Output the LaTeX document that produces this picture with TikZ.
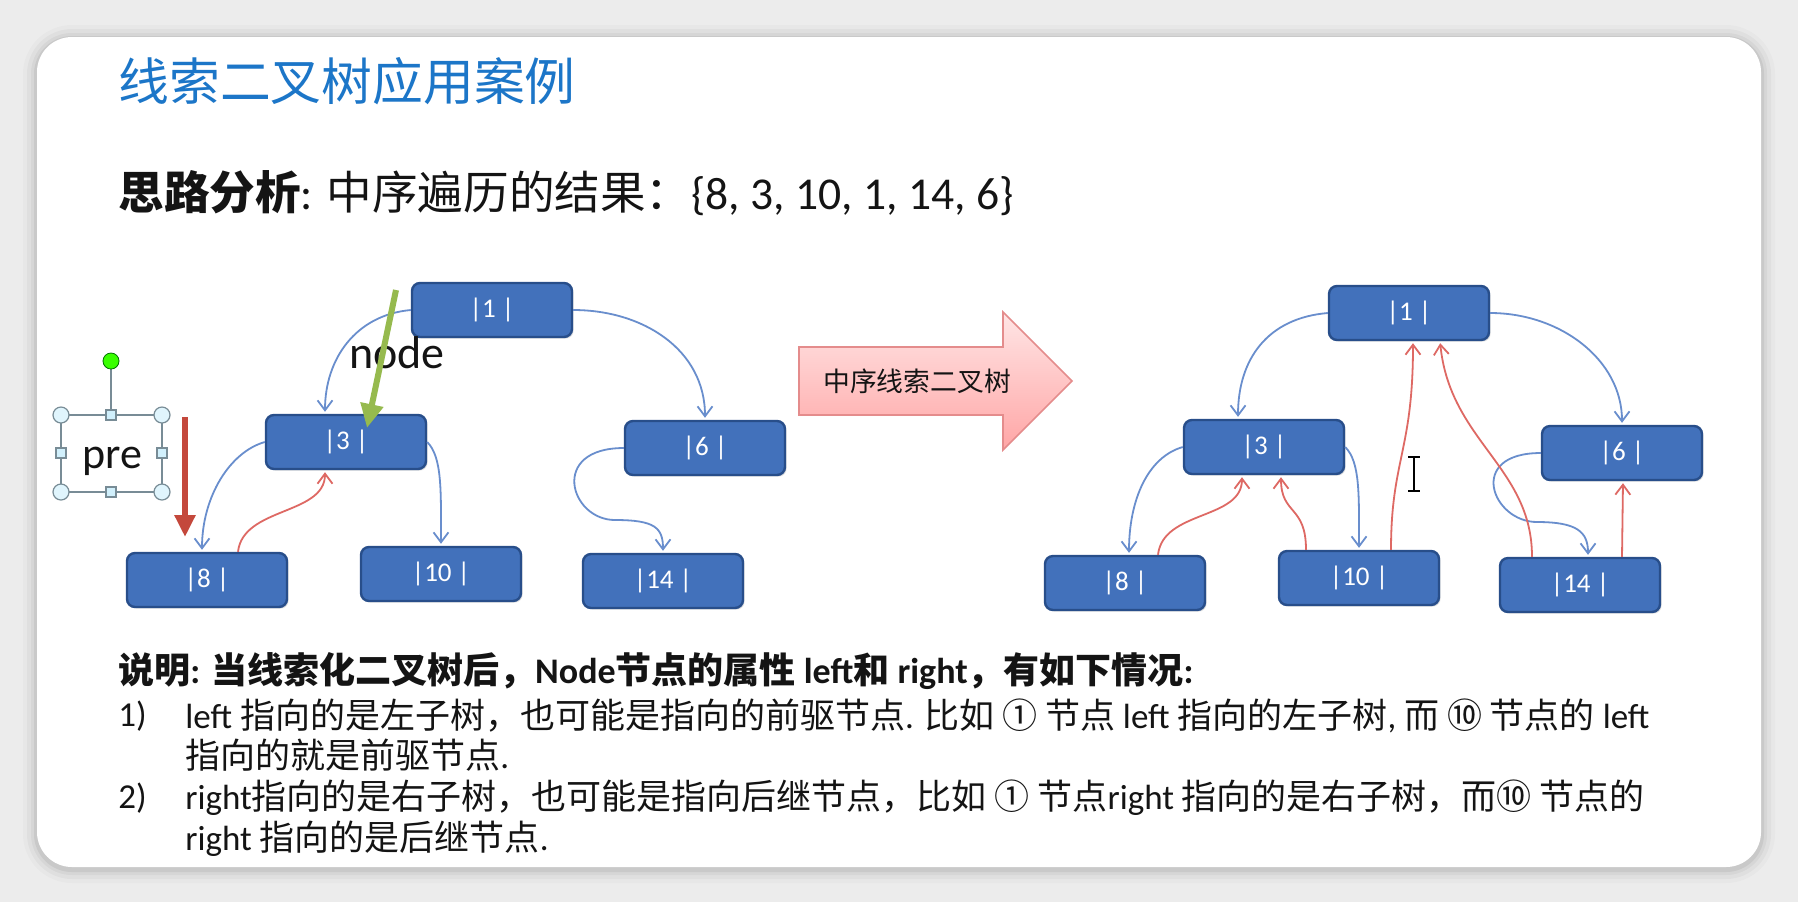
\documentclass[tikz,border=0pt]{standalone}
\usepackage{fontspec}
\setmainfont{Carlito}
\newfontfamily\cjk{Noto Sans CJK SC}
\usetikzlibrary{arrows.meta,calc,shadows}
\definecolor{bggrey}{RGB}{236,236,236}
\definecolor{boxfill}{RGB}{66,113,187}
\definecolor{boxline}{RGB}{40,78,138}
\definecolor{edgeblue}{RGB}{105,142,205}
\definecolor{edgered}{RGB}{222,105,100}
\definecolor{titleblue}{RGB}{28,118,200}
\definecolor{prered}{RGB}{196,72,60}
\definecolor{nodegreen}{RGB}{150,186,78}
\definecolor{txt}{RGB}{20,20,20}
\definecolor{arrowline}{RGB}{228,140,140}
\definecolor{handleline}{RGB}{120,140,150}
\begin{document}
\begin{tikzpicture}[x=0.5pt,y=-0.5pt,
  tnode/.style={draw=boxline, fill=boxfill, line width=1.2pt, rounded corners=4pt,
    minimum width=80pt, minimum height=27pt, text=white, inner sep=0pt,
    font=\fontsize{13.5}{13.5}\selectfont,
    drop shadow={shadow xshift=0.8pt, shadow yshift=-0.8pt, opacity=0.25}},
  bedge/.style={draw=edgeblue, line width=0.9pt, shorten >=1pt,
    -{Straight Barb[length=5pt,width=7.5pt,line width=0.9pt]}},
  redge/.style={draw=edgered, line width=0.9pt, shorten >=1pt,
    -{Straight Barb[length=5pt,width=7.5pt,line width=0.9pt]}},
  txtnode/.style={anchor=west, inner sep=0pt, text=txt, font=\fontsize{17.5}{17.5}\selectfont},
  handlec/.style={draw=handleline, fill=white!88!cyan, line width=0.6pt},
  handles/.style={draw=handleline, fill=cyan!18, line width=0.6pt}]
\useasboundingbox (0,0) rectangle (1798,902);
% background and card
\fill[bggrey] (0,0) rectangle (1798,902);
\foreach \i/\o in {14/0.02,10/0.03,6/0.04,3/0.06}{
  \fill[black, opacity=\o, rounded corners=17.5pt+\i*0.5pt] (37-\i,39-\i) rectangle (1761+\i,869+\i);
}
\fill[white, rounded corners=17.5pt] (37,37) rectangle (1761,867);

% title and heading
\node[anchor=west, inner sep=0pt, text=titleblue, font=\cjk\fontsize{25.4}{25.4}\selectfont] (title) at (118,81) {线索二叉树应用案例};
\node[anchor=west, inner sep=0pt, text=txt, font=\fontsize{22.8}{22.8}\selectfont] (head) at (118,193)
  {{\cjk\bfseries 思路分析}: {\cjk 中序遍历的结果：}\{8, 3, 10, 1, 14, 6\}};

% left tree
\node[tnode] (L1) at (492,310) {|1 |};
\node[tnode] (L3) at (346,442) {|3 |};
\node[tnode] (L6) at (705,448) {|6 |};
\node[tnode] (L8) at (207,580) {|8 |};
\node[tnode] (L10) at (441,574) {|10 |};
\node[tnode] (L14) at (663,581) {|14 |};

\draw[bedge] (L1.west) .. controls +(-55,5) and +(0,-55) .. ([xshift=-10.5pt]L3.north);
\draw[bedge] (L1.east) .. controls +(70,0) and +(0,-70) .. (L6.north);
\draw[bedge] (L3.west) .. controls +(-35,10) and +(0,-55) .. ([xshift=-2.5pt]L8.north);
\draw[bedge] (L3.east) .. controls +(15,15) and +(0,-55) .. (L10.north);
\coordinate (Lm) at (615,520);
\draw[bedge] (L6.west) .. controls +(-75,0) and +(-45,0) .. (Lm) .. controls +(40,0) and +(0,-25) .. (L14.north);
\draw[redge] ([xshift=15.5pt]L8.north) .. controls +(5,-45) and +(0,45) .. ([xshift=-10.5pt]L3.south);

% pre selection box
\draw[handleline, line width=0.6pt] (61,415) rectangle (162,492);
\draw[handleline, line width=0.6pt] (111,369) -- (111,410);
\node[circle, draw=green!45!black, fill=green!70!lime, minimum size=8pt, inner sep=0pt] (grn) at (111,361) {};
\foreach \p/\q in {61/415,162/415,61/492,162/492}{
  \draw[handlec] (\p,\q) circle (4pt);
}
\foreach \p/\q in {111/415,111/492,61/453,162/453}{
  \draw[handles] (\p-5,\q-5) rectangle (\p+5,\q+5);
}
\node[inner sep=0pt, text=txt, font=\fontsize{22}{22}\selectfont] (pre) at (112,461) {pre};
\coordinate (preA) at (185,417);
\coordinate (preB) at (185,537);
\draw[prered, line width=3pt, -{Triangle[length=11pt,width=10pt]}] (preA) -- (preB);

% node pointer
\node[inner sep=0pt, text=txt, font=\fontsize{23}{23}\selectfont] (nodelbl) at (397,353) {node};
\coordinate (ndA) at (396,290);
\coordinate (ndB) at (367,428);
\draw[nodegreen, line width=3pt, -{Triangle[length=12pt,width=11pt]}] (ndA) -- (ndB);

% middle block arrow
\draw[draw=arrowline, line width=0.8pt, top color=red!10, bottom color=red!35]
  (799,347) -- (1003,347) -- (1003,312) -- (1072,381) -- (1003,450) -- (1003,415) -- (799,415) -- cycle;
\node[inner sep=0pt, text=txt, font=\cjk\fontsize{13.4}{13.4}\selectfont] (arrtxt) at (917,381) {中序线索二叉树};

% right tree
\node[tnode] (R1) at (1409,313) {|1 |};
\node[tnode] (R3) at (1264,447) {|3 |};
\node[tnode] (R6) at (1622,453) {|6 |};
\node[tnode] (R8) at (1125,583) {|8 |};
\node[tnode] (R10) at (1359,578) {|10 |};
\node[tnode] (R14) at (1580,585) {|14 |};

\draw[bedge] (R1.west) .. controls +(-60,5) and +(0,-60) .. ([xshift=-13pt]R3.north);
\draw[bedge] (R1.east) .. controls +(70,0) and +(0,-65) .. (R6.north);
\draw[bedge] (R3.west) .. controls +(-35,10) and +(0,-55) .. ([xshift=2pt]R8.north);
\draw[bedge] (R3.east) .. controls +(15,15) and +(0,-55) .. (R10.north);
\coordinate (Rm) at (1537,522);
\draw[bedge] (R6.west) .. controls +(-75,0) and +(-45,0) .. (Rm) .. controls +(40,0) and +(0,-25) .. ([xshift=4pt]R14.north);
\draw[redge] ([xshift=16.5pt]R8.north) .. controls +(5,-45) and +(0,45) .. ([xshift=-11pt]R3.south);
\draw[redge] ([xshift=-26.5pt]R10.north) .. controls +(0,-45) and +(0,40) .. ([xshift=8.5pt]R3.south);
\draw[redge] ([xshift=16pt]R10.north) .. controls +(0,-90) and +(0,110) .. ([xshift=2pt]R1.south);
\draw[redge] ([xshift=-24pt]R14.north) .. controls +(0,-90) and +(10,100) .. ([xshift=15.5pt]R1.south);
\draw[redge] ([xshift=21pt]R14.north) -- ([xshift=0.5pt]R6.south);

% text cursor
\coordinate (cur) at (1414,474);
\draw[black, line width=1pt] ($(cur)+(0,-17)$) -- ($(cur)+(0,17)$);
\draw[black, line width=1pt] ($(cur)+(-6,-17)$) -- ($(cur)+(6,-17)$);
\draw[black, line width=1pt] ($(cur)+(-6,17)$) -- ($(cur)+(6,17)$);

% bottom notes
\node[txtnode, font=\bfseries\fontsize{18}{18}\selectfont] (t1) at (118,671)
  {{\cjk 说明}: {\cjk 当线索化二叉树后，}Node{\cjk 节点的属性} left{\cjk 和} right{\cjk ，有如下情况}:};
\node[txtnode] (n1) at (118,716) {1)};
\node[txtnode] (t2) at (185,716)
  {left {\cjk 指向的是左子树，也可能是指向的前驱节点}. {\cjk 比如 ① 节点} left {\cjk 指向的左子树}, {\cjk 而 ⑩ 节点的} left};
\node[txtnode] (t3) at (185,755) {{\cjk 指向的就是前驱节点}.};
\node[txtnode] (n2) at (118,798) {2)};
\node[txtnode] (t4) at (185,798)
  {right{\cjk 指向的是右子树，也可能是指向后继节点，比如 ① 节点}right {\cjk 指向的是右子树，而⑩ 节点的}};
\node[txtnode] (t5) at (185,839) {right {\cjk 指向的是后继节点}.};
\end{tikzpicture}
\end{document}
